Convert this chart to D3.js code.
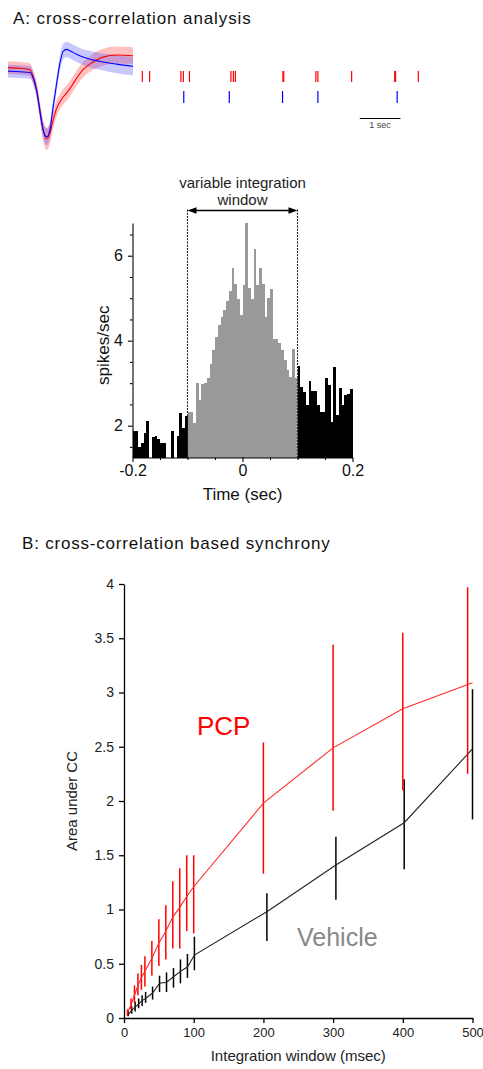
<!DOCTYPE html>
<html>
<head>
<meta charset="utf-8">
<script src="https://cdn.jsdelivr.net/npm/d3@7"></script>
<style>
  html, body { margin: 0; padding: 0; background: #fff; }
  svg { display: block; }
</style>
</head>
<body>
<div id="fig"></div>
<script>
/* ── waveforms (mean ± sd, µV) ── */
const WAVE_T = [0, 0.3, 0.55, 0.63, 0.72, 0.8, 0.88, 0.97, 1.05, 1.13, 1.22, 1.3, 1.38, 1.47, 1.55, 1.72, 1.88, 2.05, 2.22, 2.38, 2.72, 3.13];
const RED_MEAN = [2, 1, -1, -11, -30, -59, -87, -100, -92, -73, -56, -47, -40, -34, -28, -13, -1, 7, 13, 17, 20, 19];
const RED_SD   = [9, 9, 9, 9, 10, 12, 14, 16, 15, 13, 12, 11, 11, 11, 11, 11, 11, 11, 12, 12, 12, 12];
const BLUE_MEAN = [-3, -4, -5, -13, -32, -61, -87, -97, -87, -54, -20, 8, 25, 28, 26, 21, 17, 14, 12, 10, 7, 4];
const BLUE_SD   = [9, 9, 9, 9, 10, 11, 12, 12, 11, 11, 11, 11, 11, 11, 11, 11, 11, 12, 12, 12, 13, 13];

/* ── spike trains (sec) ── */
const RED_SPIKES  = [0, 0.18, 0.95, 1.01, 1.16, 2.18, 2.24, 2.29, 3.46, 3.48, 4.27, 4.32, 5.15, 6.21, 6.23, 6.79];
const BLUE_SPIKES = [1.02, 2.14, 3.45, 4.32, 6.27];
const SCALE_BAR = [5.35, 6.35];

/* ── cross-correlogram, 5 ms bins from -0.2 s ── */
const HIST_START = -0.2;
const BIN_W = 0.005;
const HIST_VALS = [
  1.87, 1.87, 1.50, 1.60, 1.83, 2.12, 1.10, 1.73, 1.76, 1.69,
  1.59, 1.58, 1.10, 1.10, 1.87, 1.10, 1.76, 2.30, 1.95, 2.23,
  2.31, 2.33, 2.07, 3.01, 2.60, 2.99, 3.01, 3.12, 3.46, 3.79,
  4.08, 4.36, 4.55, 4.73, 4.94, 5.16, 5.70, 5.34, 4.97, 4.60,
  5.32, 6.78, 5.25, 4.97, 6.16, 5.30, 5.70, 5.34, 4.55, 5.00,
  5.21, 4.05, 4.05, 3.95, 3.78, 3.55, 3.30, 3.15, 3.80, 3.12,
  3.40, 2.91, 2.79, 2.48, 3.06, 2.82, 2.81, 2.48, 2.32, 2.33,
  3.11, 2.96, 2.09, 3.38, 2.26, 2.88, 2.48, 2.73, 2.75, 2.87
];
const WINDOW = [-0.1, 0.1];
const HIST_Y_MAJOR = [2, 4, 6];
const HIST_Y_MINOR = [1.5, 2.5, 3, 3.5, 4.5, 5, 5.5, 6.5];
const HIST_X_MAJOR = [-0.2, 0, 0.2];
const HIST_X_MINOR = [-0.15, -0.1, -0.05, 0.05, 0.1, 0.15];

/* ── panel B: area under CC vs integration window ── */
const PCP_X     = [5, 10, 15, 20, 25, 30, 40, 50, 60, 70, 80, 90, 100, 200, 300, 400, 500];
const PCP_BAR_X = [5, 10, 15, 20, 25, 30, 40, 50, 60, 70, 80, 90, 100, 200, 300, 400, 493];
const PCP_MEAN = [0.05, 0.12, 0.21, 0.30, 0.37, 0.43, 0.55, 0.69, 0.80, 0.93, 1.02, 1.12, 1.21, 1.98, 2.49, 2.85, 3.09];
const PCP_LO   = [0.02, 0.08, 0.14, 0.21, 0.26, 0.29, 0.39, 0.48, 0.54, 0.64, 0.64, 0.80, 0.78, 1.33, 1.91, 2.10, 2.25];
const PCP_HI   = [0.08, 0.18, 0.30, 0.41, 0.49, 0.57, 0.71, 0.91, 1.04, 1.26, 1.38, 1.50, 1.50, 2.54, 3.44, 3.55, 3.97];
const VEH_X    = [6, 11, 16, 21, 26, 31, 41, 51, 61, 71, 81, 91, 101, 205, 304, 402, 500];
const VEH_MEAN = [0.03, 0.07, 0.10, 0.13, 0.16, 0.18, 0.23, 0.32, 0.33, 0.38, 0.43, 0.47, 0.58, 0.98, 1.41, 1.80, 2.48];
const VEH_LO   = [0.015, 0.04, 0.06, 0.09, 0.11, 0.14, 0.17, 0.24, 0.24, 0.28, 0.32, 0.37, 0.44, 0.71, 1.09, 1.37, 1.83];
const VEH_HI   = [0.07, 0.11, 0.15, 0.18, 0.21, 0.24, 0.29, 0.39, 0.42, 0.46, 0.54, 0.59, 0.75, 1.15, 1.67, 2.20, 3.03];

const FONT = '"Liberation Sans", Arial, Helvetica, sans-serif';

const svg = d3.select("#fig").append("svg")
  .attr("width", 483).attr("height", 1069)
  .attr("viewBox", "0 0 483 1069")
  .style("font-family", FONT);

svg.append("rect").attr("width", 483).attr("height", 1069).attr("fill", "#fff");

/* ══════════════════════════════════
   PANEL A
   ══════════════════════════════════ */
svg.append("text").attr("x", 13).attr("y", 24)
  .style("font-size", "17px").style("letter-spacing", "0.9px").style("fill", "#111")
  .text("A: cross-correlation analysis");

/* waveforms */
const xW = d3.scaleLinear().domain([0, 3.13]).range([8, 133]);
const yW = d3.scaleLinear().domain([-100, 0]).range([139, 69]);

const band = (mean, sd) => d3.area()
  .x((d, i) => xW(WAVE_T[i]))
  .y0((d, i) => yW(mean[i] - sd[i]))
  .y1((d, i) => yW(mean[i] + sd[i]))
  .curve(d3.curveMonotoneX)(WAVE_T);
const trace = mean => d3.line()
  .x((d, i) => xW(WAVE_T[i]))
  .y((d, i) => yW(mean[i]))
  .curve(d3.curveMonotoneX)(WAVE_T);

svg.append("path").attr("d", band(RED_MEAN, RED_SD)).attr("fill", "#ff3030").attr("fill-opacity", 0.3);
svg.append("path").attr("d", band(BLUE_MEAN, BLUE_SD)).attr("fill", "#3a3aff").attr("fill-opacity", 0.28);
svg.append("path").attr("d", trace(RED_MEAN)).attr("fill", "none").attr("stroke", "#ff0000").attr("stroke-width", 1.1);
svg.append("path").attr("d", trace(BLUE_MEAN)).attr("fill", "none").attr("stroke", "#0000ff").attr("stroke-width", 1.1);

/* rasters */
const xR = d3.scaleLinear().domain([0, 6.79]).range([142.3, 418.3]);
svg.append("g").selectAll("line").data(RED_SPIKES).enter().append("line")
  .attr("x1", d => xR(d)).attr("x2", d => xR(d)).attr("y1", 71).attr("y2", 82)
  .attr("stroke", "#ff0000").attr("stroke-width", 1.2);
svg.append("g").selectAll("line").data(BLUE_SPIKES).enter().append("line")
  .attr("x1", d => xR(d)).attr("x2", d => xR(d)).attr("y1", 91).attr("y2", 103)
  .attr("stroke", "#0000ff").attr("stroke-width", 1.2);

svg.append("line").attr("x1", xR(SCALE_BAR[0])).attr("x2", xR(SCALE_BAR[1]))
  .attr("y1", 118.5).attr("y2", 118.5).attr("stroke", "#000").attr("stroke-width", 1.2);
svg.append("text").attr("x", xR((SCALE_BAR[0] + SCALE_BAR[1]) / 2)).attr("y", 128)
  .attr("text-anchor", "middle").style("font-size", "9px").style("fill", "#444")
  .text("1 sec");

/* cross-correlogram */
const xH = d3.scaleLinear().domain([-0.2, 0.2]).range([132.5, 352.5]);
const yH = d3.scaleLinear().domain([1.25, 6.77]).range([457.5, 223]);
const base = yH.domain()[0];

svg.append("g").selectAll("rect").data(HIST_VALS).enter().append("rect")
  .attr("x", (d, i) => xH(HIST_START + i * BIN_W))
  .attr("width", xH(BIN_W) - xH(0))
  .attr("y", d => yH(Math.max(d, base)))
  .attr("height", d => yH(base) - yH(Math.max(d, base)))
  .attr("shape-rendering", "crispEdges")
  .attr("fill", (d, i) => {
    const lag = HIST_START + (i + 0.5) * BIN_W;
    return lag > WINDOW[0] && lag < WINDOW[1] ? "#999999" : "#000000";
  });

/* window markers */
const arrowY = 210.5;
svg.append("g").selectAll("line").data(WINDOW).enter().append("line")
  .attr("x1", d => xH(d)).attr("x2", d => xH(d)).attr("y1", arrowY - 1).attr("y2", yH(base))
  .attr("stroke", "#222").attr("stroke-width", 1.1).attr("stroke-dasharray", "2,1.2");
svg.append("line").attr("x1", xH(WINDOW[0]) + 4).attr("x2", xH(WINDOW[1]) - 4)
  .attr("y1", arrowY).attr("y2", arrowY).attr("stroke", "#000").attr("stroke-width", 1.3);
const xa = xH(WINDOW[0]), xb = xH(WINDOW[1]);
svg.append("path").attr("d", `M${xa},${arrowY}L${xa + 9},${arrowY - 3.2}L${xa + 9},${arrowY + 3.2}Z`).attr("fill", "#000");
svg.append("path").attr("d", `M${xb},${arrowY}L${xb - 9},${arrowY - 3.2}L${xb - 9},${arrowY + 3.2}Z`).attr("fill", "#000");

svg.append("text").attr("x", xH(0)).attr("y", 187.5).attr("text-anchor", "middle")
  .style("font-size", "15px").style("fill", "#222").text("variable integration");
svg.append("text").attr("x", xH(0)).attr("y", 205).attr("text-anchor", "middle")
  .style("font-size", "15px").style("fill", "#222").text("window");

/* histogram axes */
const hy = svg.append("g").attr("transform", `translate(${xH.range()[0]},0)`);
hy.call(d3.axisLeft(yH).tickValues(HIST_Y_MINOR).tickSize(2.5).tickSizeOuter(0).tickFormat(""));
hy.append("g").call(d3.axisLeft(yH).tickValues(HIST_Y_MAJOR).tickSize(4.5).tickSizeOuter(0).tickPadding(5).tickFormat(d => d))
  .call(g => g.select(".domain").remove());
hy.attr("font-family", FONT).selectAll("text").style("font-size", "16px").style("fill", "#111");

const hx = svg.append("g").attr("transform", `translate(0,${yH(base)})`);
hx.call(d3.axisBottom(xH).tickValues(HIST_X_MINOR).tickSize(2.5).tickSizeOuter(0).tickFormat(""));
hx.append("g").call(d3.axisBottom(xH).tickValues(HIST_X_MAJOR).tickSize(4.5).tickSizeOuter(0).tickPadding(3).tickFormat(d => d))
  .call(g => g.select(".domain").remove());
hx.attr("font-family", FONT).selectAll("text").style("font-size", "16px").style("fill", "#111");
svg.selectAll(".domain, .tick line").attr("stroke", "#000").attr("stroke-width", 1.1);

svg.append("text").attr("x", xH(0)).attr("y", 500).attr("text-anchor", "middle")
  .style("font-size", "17px").style("fill", "#111").text("Time (sec)");
svg.append("text").attr("transform", `translate(109,${(yH(base) + yH.range()[1]) / 2 + 5}) rotate(-90)`)
  .attr("text-anchor", "middle").style("font-size", "17px").style("fill", "#111").text("spikes/sec");

/* ══════════════════════════════════
   PANEL B
   ══════════════════════════════════ */
svg.append("text").attr("x", 22).attr("y", 548.5)
  .style("font-size", "17px").style("letter-spacing", "0.8px").style("fill", "#111")
  .text("B: cross-correlation based synchrony");

const xB = d3.scaleLinear().domain([0, 500]).range([124, 472.5]);
const yB = d3.scaleLinear().domain([0, 4]).range([1018, 584]);

const bx = svg.append("g").attr("transform", `translate(0,${yB(0)})`)
  .call(d3.axisBottom(xB).ticks(5).tickSize(5).tickSizeOuter(0).tickPadding(5));
const by = svg.append("g").attr("transform", `translate(${xB(0)},0)`)
  .call(d3.axisLeft(yB).ticks(8).tickSize(5).tickSizeOuter(0).tickPadding(5).tickFormat(d => d));
[bx, by].forEach(a => {
  a.attr("font-family", FONT);
  a.selectAll("text").style("font-size", "14px").style("fill", "#222");
  a.selectAll(".domain, .tick line").attr("stroke", "#000").attr("stroke-width", 1.3);
});
bx.selectAll("text").style("font-size", "13px");

svg.append("text").attr("x", (xB.range()[0] + xB.range()[1]) / 2).attr("y", 1061)
  .attr("text-anchor", "middle").style("font-size", "15px").style("fill", "#222")
  .text("Integration window (msec)");
svg.append("text").attr("transform", `translate(77,${yB(2)}) rotate(-90)`)
  .attr("text-anchor", "middle").style("font-size", "15px").style("fill", "#222")
  .text("Area under CC");

/* error bars */
const errBars = (xs, lo, hi, color) => svg.append("g").selectAll("line").data(xs).enter().append("line")
  .attr("x1", d => xB(d)).attr("x2", d => xB(d))
  .attr("y1", (d, i) => yB(lo[i])).attr("y2", (d, i) => yB(hi[i]))
  .attr("stroke", color).attr("stroke-width", 1.5);

const seriesLine = (xs, ys, color) => svg.append("path")
  .attr("d", d3.line().x((d, i) => xB(xs[i])).y((d, i) => yB(ys[i]))(xs))
  .attr("fill", "none").attr("stroke", color).attr("stroke-width", 1.1);

errBars(VEH_X, VEH_LO, VEH_HI, "#000");
seriesLine(VEH_X, VEH_MEAN, "#222");
errBars(PCP_BAR_X, PCP_LO, PCP_HI, "#ff0000");
seriesLine(PCP_X, PCP_MEAN, "#ff2a2a");

svg.append("text").attr("x", 197).attr("y", 735)
  .style("font-size", "26px").style("fill", "#ff0000").text("PCP");
svg.append("text").attr("x", 297).attr("y", 946)
  .style("font-size", "25px").style("fill", "#888").text("Vehicle");
</script>
</body>
</html>
